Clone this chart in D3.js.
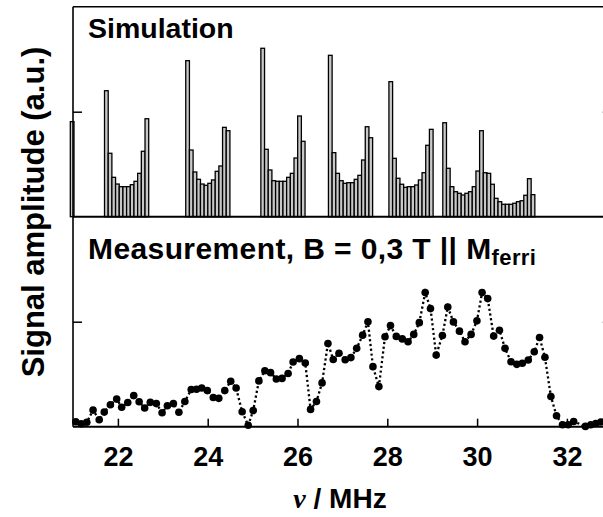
<!DOCTYPE html>
<html><head><meta charset="utf-8">
<script src="https://cdn.jsdelivr.net/npm/d3@7"></script>
<style>
html,body{margin:0;padding:0;background:#fff;}
svg{display:block;}
text{font-family:"Liberation Sans",Arial,Helvetica,sans-serif;font-weight:bold;fill:#000;}
</style></head>
<body>
<svg id="chart" width="603" height="517"></svg>
<script>
// ---- data ----
const xTicks = [22, 24, 26, 28, 30, 32];
const xTickLabels = ["22", "24", "26", "28", "30", "32"];
const yTicks = [1];

// simulation: start frequency (MHz) of each group of bars, bin width (MHz)
const simStarts = [20.94, 21.702, 23.511, 25.184, 26.689, 28.036, 29.236];
const simBin = 0.082;
const simEdge  = [0.905];
const simPeak1 = [1.20, 0.604, 0.375, 0.311, 0.286, 0.286, 0.286, 0.305, 0.337, 0.413, 0.623, 0.933];
const simPeak2 = [1.486, 0.635, 0.426, 0.356, 0.311, 0.299, 0.318, 0.35, 0.432, 0.483, 0.851, 0.819];
const simPeak3 = [1.604, 0.642, 0.445, 0.343, 0.337, 0.337, 0.337, 0.375, 0.413, 0.559, 0.959, 0.718];
const simPeak4 = [1.537, 0.61, 0.413, 0.343, 0.318, 0.324, 0.324, 0.356, 0.394, 0.54, 0.857, 0.752];
const simPeak5 = [1.286, 0.556, 0.366, 0.309, 0.28, 0.286, 0.286, 0.302, 0.35, 0.419, 0.68, 0.832];
const simPeak6 = [0.895, 0.461, 0.286, 0.238, 0.223, 0.207, 0.223, 0.238, 0.286, 0.435, 0.819, 0.419, 0.413,
                  0.309, 0.175, 0.143, 0.118, 0.118, 0.118, 0.128, 0.143, 0.152, 0.204, 0.362, 0.21];

// measurement
const measFreq = [21.062, 21.184, 21.307, 21.447, 21.584, 21.696, 21.833, 21.973, 22.084, 22.22,
  22.353, 22.473, 22.596, 22.722, 22.856, 22.984, 23.102, 23.236, 23.358, 23.491,
  23.633, 23.751, 23.867, 23.991, 24.124, 24.247, 24.38, 24.513, 24.633, 24.767,
  24.902, 25.013, 25.14, 25.273, 25.40, 25.529, 25.656, 25.791, 25.902, 26.042,
  26.173, 26.291, 26.422, 26.547, 26.678, 26.796, 26.924, 27.062, 27.189, 27.318,
  27.451, 27.569, 27.68, 27.813, 27.949, 28.071, 28.20, 28.333, 28.462, 28.589,
  28.713, 28.844, 28.962, 29.089, 29.227, 29.347, 29.473, 29.607, 29.731, 29.867,
  29.996, 30.111, 30.236, 30.369, 30.498, 30.622, 30.756, 30.884, 31.007, 31.14,
  31.273, 31.391, 31.511, 31.644, 31.769, 31.902, 32.029, 32.151, 32.413, 32.533,
  32.644, 32.756, 32.87];
const measAmp = [0.047, 0.028, 0.043, 0.158, 0.066, 0.139, 0.209, 0.263, 0.185, 0.230,
  0.296, 0.237, 0.178, 0.232, 0.220, 0.133, 0.199, 0.220, 0.137, 0.240,
  0.354, 0.357, 0.368, 0.344, 0.278, 0.270, 0.344, 0.433, 0.368, 0.142,
  0.014, 0.154, 0.436, 0.533, 0.515, 0.455, 0.46, 0.507, 0.616, 0.648,
  0.607, 0.165, 0.240, 0.417, 0.793, 0.64, 0.699, 0.638, 0.658, 0.746,
  0.872, 1.0, 0.572, 0.382, 0.856, 0.963, 0.86, 0.836, 0.809, 0.879,
  0.991, 1.277, 1.125, 0.682, 0.869, 1.140, 0.998, 0.91, 0.809, 0.879,
  1.008, 1.277, 1.22, 0.863, 0.919, 0.746, 0.619, 0.594, 0.604, 0.635,
  0.714, 0.85, 0.661, 0.287, 0.104, 0.019, 0.019, 0.05, 0.003, 0.019,
  0.031, 0.045, 0.052];

// ---- layout ----
const svg = d3.select("#chart");
const pLeft = 73, pRight = 611.8, pTop = 6.7, pMid = 216.7, pBottom = 426.7;
const x = d3.scaleLinear().domain([21, 33]).range([pLeft, pRight]);
const yTop = d3.scaleLinear().domain([0, 2]).range([pMid, pTop]);
const yBot = d3.scaleLinear().domain([0, 2]).range([pBottom, pMid]);

// ---- simulation bars ----
const simGroups = [simEdge, simPeak1, simPeak2, simPeak3, simPeak4, simPeak5, simPeak6];
const bars = [];
simGroups.forEach((g, gi) => g.forEach((v, i) => {
  bars.push({f0: simStarts[gi] + i * simBin, f1: simStarts[gi] + (i + 1) * simBin, v});
}));
svg.append("g").selectAll("rect").data(bars).join("rect")
  .attr("x", d => x(d.f0))
  .attr("width", d => x(d.f1) - x(d.f0))
  .attr("y", d => yTop(d.v))
  .attr("height", d => yTop(0) - yTop(d.v))
  .attr("fill", "#c8c8c8")
  .attr("stroke", "#000")
  .attr("stroke-width", 1.3);

// ---- measurement ----
const meas = measFreq.map((f, i) => ({f, v: measAmp[i]}));
svg.append("path").datum(meas)
  .attr("fill", "none").attr("stroke", "#000")
  .attr("stroke-width", 2.3).attr("stroke-dasharray", "2.2,2.6")
  .attr("d", d3.line().x(d => x(d.f)).y(d => yBot(d.v)));
svg.append("g").selectAll("circle").data(meas).join("circle")
  .attr("cx", d => x(d.f)).attr("cy", d => yBot(d.v)).attr("r", 3.8)
  .attr("fill", "#000");

// ---- axes / frame ----
const frame = svg.append("g").attr("stroke", "#000").attr("stroke-width", 1.6).attr("fill", "none");
frame.append("line").attr("x1", pLeft).attr("x2", pLeft).attr("y1", pTop).attr("y2", pBottom);
frame.append("line").attr("x1", pRight).attr("x2", pRight).attr("y1", pTop).attr("y2", pBottom);
frame.append("line").attr("x1", pLeft).attr("x2", pRight).attr("y1", pTop).attr("y2", pTop);
frame.append("line").attr("x1", pLeft).attr("x2", pRight).attr("y1", pMid).attr("y2", pMid).attr("stroke-width", 2);
frame.append("line").attr("x1", pLeft).attr("x2", pRight).attr("y1", pBottom).attr("y2", pBottom).attr("stroke-width", 2);

// x axis (ticks inward, labels below)
const xAxis = d3.axisBottom(x).tickValues(xTicks).tickFormat((d, i) => xTickLabels[i])
  .tickSizeInner(-8).tickSizeOuter(0).tickPadding(39);
const gx = svg.append("g").attr("transform", `translate(0,${pBottom})`).call(xAxis);
gx.select(".domain").remove();
gx.selectAll(".tick line").attr("stroke", "#000").attr("stroke-width", 1.5);
gx.selectAll(".tick text").attr("font-size", 27).attr("font-family", "Liberation Sans, Arial, sans-serif")
  .attr("font-weight", "bold").attr("dy", "0");

// y ticks (inward) on both panels, left and right
[yTop, yBot].forEach(ys => {
  const gl = svg.append("g").attr("transform", `translate(${pLeft},0)`)
    .call(d3.axisLeft(ys).tickValues(yTicks).tickSizeInner(-9).tickSizeOuter(0).tickFormat(""));
  gl.select(".domain").remove();
  gl.selectAll(".tick line").attr("stroke-width", 1.5);
  const gr = svg.append("g").attr("transform", `translate(${pRight},0)`)
    .call(d3.axisRight(ys).tickValues(yTicks).tickSizeInner(-9).tickSizeOuter(0).tickFormat(""));
  gr.select(".domain").remove();
  gr.selectAll(".tick line").attr("stroke-width", 1.5);
});

// ---- texts ----
svg.append("text").attr("x", 88).attr("y", 38).attr("font-size", 28.5).text("Simulation");
const mt = svg.append("text").attr("x", 88).attr("y", 259).attr("font-size", 30).attr("letter-spacing", 0.4);
mt.append("tspan").text("Measurement, B = 0,3 T || M");
mt.append("tspan").attr("font-size", 22).attr("dy", 6).text("ferri");

svg.append("text")
  .attr("transform", "translate(44,212) rotate(-90)")
  .attr("text-anchor", "middle").attr("font-size", 31)
  .text("Signal amplitude (a.u.)");

const xt = svg.append("text").attr("x", 340).attr("y", 508).attr("text-anchor", "middle").attr("font-size", 28);
xt.append("tspan").attr("font-family", "Liberation Serif, Times New Roman, serif").attr("font-style", "italic").text("ν");
xt.append("tspan").text(" / MHz");
</script>
</body></html>
